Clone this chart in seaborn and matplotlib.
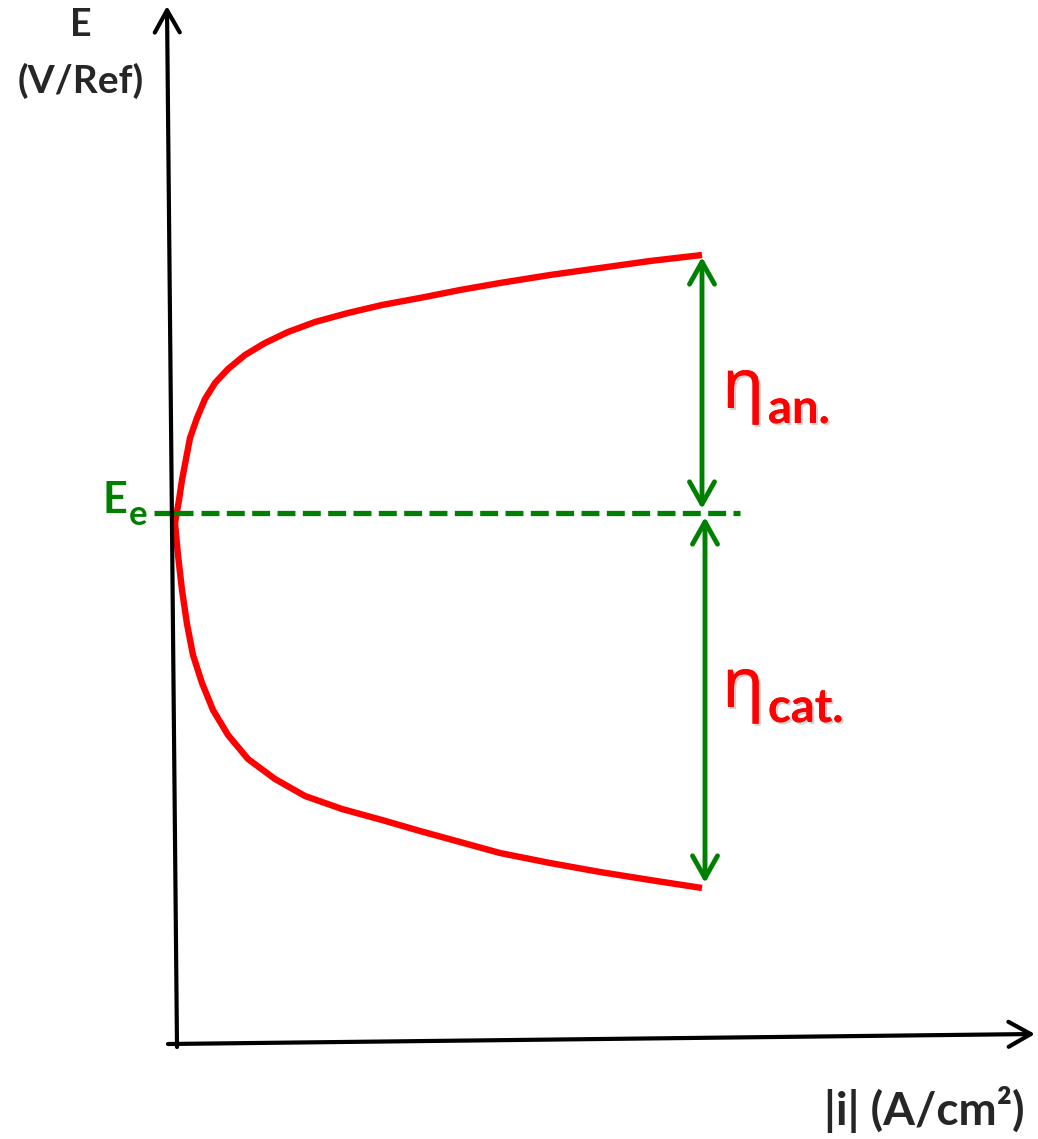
import matplotlib
matplotlib.use('Agg')
import matplotlib.pyplot as plt
import matplotlib.patheffects as pe
import seaborn as sns
import pandas as pd

anodic_i = [175, 179, 182, 186, 190, 197, 205, 215, 228, 245, 265, 288, 315, 348, 382, 425, 460, 500, 550, 600, 650, 702]
anodic_E = [523, 500, 480, 459, 438, 418, 399, 383, 369, 355, 343, 332, 322, 313, 305, 297, 290, 283, 275, 268, 261, 255]
cathodic_i = [175, 178, 182, 187, 193, 202, 213, 228, 248, 275, 305, 342, 382, 420, 460, 500, 550, 600, 650, 702]
cathodic_E = [523, 555, 590, 624, 655, 683, 710, 735, 759, 779, 796, 809, 820, 831, 842, 853, 863, 872, 880, 888]

E_eq = 513                     # potencial de equilibrio
eq_tick = [154, 193]           # traco do E_e sobre o eixo
eq_dash = [201, 740]           # linha tracejada
y_axis = [(177, 1047), (167, 6)]
x_axis = [(168, 1044), (1035, 1034)]

y_label = ['E', '(V/Ref)']
x_label = '|i| (A/cm²)'
eta_labels = ['an.', 'cat.']

sns.set_theme(style='white')
plt.rcParams['font.family'] = ['Lato', 'Noto Sans', 'DejaVu Sans']

fig = plt.figure(figsize=(10.38, 11.39), dpi=100)
ax = fig.add_axes([0, 0, 1, 1])
ax.set_xlim(0, 1038)
ax.set_ylim(1139, 0)
ax.axis('off')

df = pd.concat([
    pd.DataFrame({'i': anodic_i, 'E': anodic_E, 'ramo': 'anodico'}),
    pd.DataFrame({'i': cathodic_i, 'E': cathodic_E, 'ramo': 'catodico'}),
])
sns.lineplot(data=df, x='i', y='E', units='ramo', estimator=None, sort=False,
             color='#ff0000', lw=4.6, ax=ax, solid_capstyle='butt', solid_joinstyle='round')

# eixos desenhados como setas
axis_arrow = dict(arrowstyle='->,head_length=0.8,head_width=0.45', lw=3,
                  color='black', shrinkA=0, shrinkB=0, mutation_scale=20)
ax.annotate('', xy=y_axis[1], xytext=y_axis[0], arrowprops=axis_arrow)
ax.annotate('', xy=x_axis[1], xytext=x_axis[0], arrowprops=axis_arrow)

# potencial de equilibrio
ax.plot(eq_tick, [E_eq, E_eq], color='green', lw=3.8, solid_capstyle='butt')
ax.plot(eq_dash, [E_eq, E_eq], color='green', lw=3.8, linestyle=(0, (3.4, 1.4)),
        dash_capstyle='butt')

# sobretensoes
green_arrow = dict(arrowstyle='<->,head_length=0.8,head_width=0.45', lw=3.5,
                   color='green', shrinkA=0, shrinkB=0, mutation_scale=20)
ax.annotate('', xy=(anodic_i[-1], anodic_E[-1] + 2), xytext=(anodic_i[-1], E_eq - 4),
            arrowprops=green_arrow)
ax.annotate('', xy=(cathodic_i[-1] + 3, E_eq + 4), xytext=(cathodic_i[-1] + 3, cathodic_E[-1] - 5),
            arrowprops=green_arrow)

shadow = [pe.withSimplePatchShadow(offset=(1.5, -1.5), shadow_rgbFace='gray', alpha=0.35), pe.Normal()]
for lab, y_base in zip(eta_labels, [423, 722]):
    ax.text(722, y_base - 15, 'η', color='#ff0000', fontsize=50, fontweight='bold',
            family=['Noto Sans', 'DejaVu Sans'], ha='left', va='baseline', path_effects=shadow)
    ax.text(768, y_base, lab, color='#ff0000', fontsize=34, fontweight='bold',
            ha='left', va='baseline', path_effects=shadow)

# rotulos
ax.text(81, 36, y_label[0], fontsize=27, fontweight='bold', ha='center', va='baseline')
ax.text(81, 93, y_label[1], fontsize=28, fontweight='bold', ha='center', va='baseline')
ax.text(1025, 1125, x_label, fontsize=33, fontweight='bold', ha='right', va='baseline')
ax.text(102, 513, 'E', color='green', fontsize=31, fontweight='bold', ha='left', va='baseline')
ax.text(129, 525, 'e', color='green', fontsize=25, fontweight='bold', ha='left', va='baseline')

fig.savefig('out.png', dpi=100)
